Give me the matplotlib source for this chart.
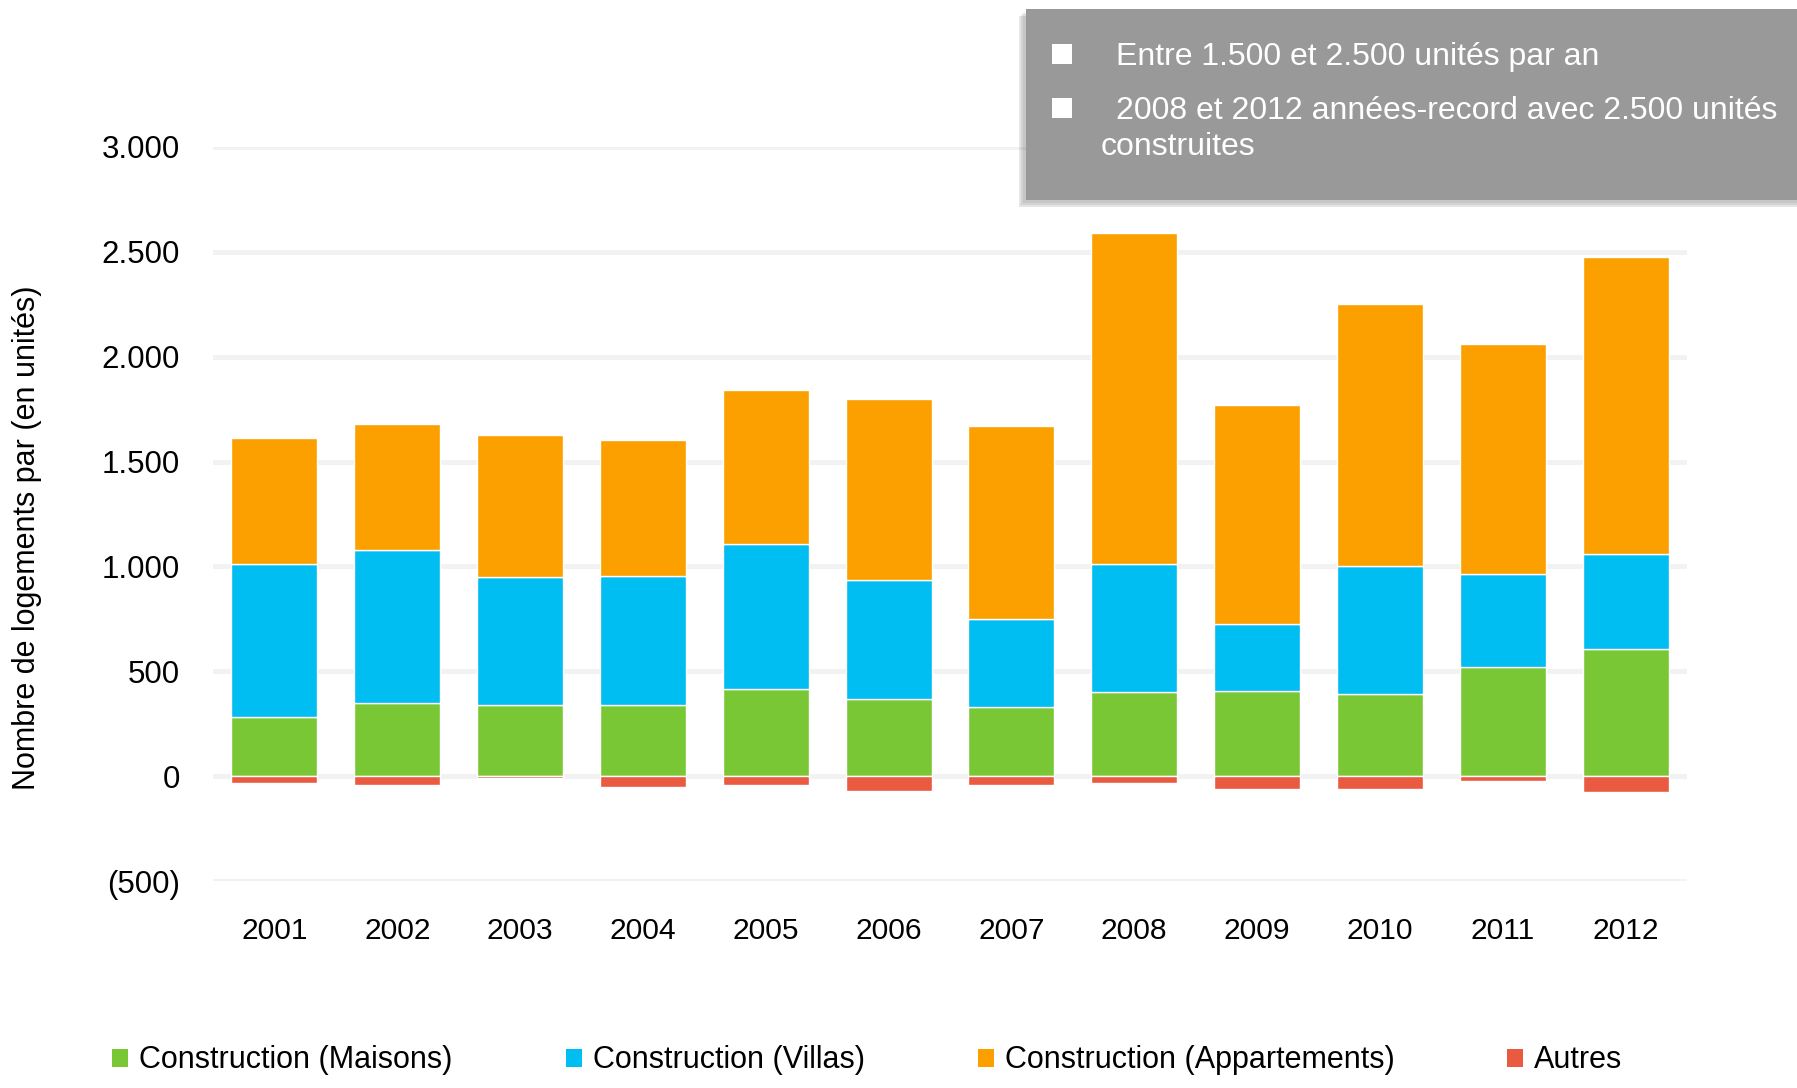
import numpy as np
import matplotlib
matplotlib.use('Agg')
import matplotlib.pyplot as plt
from matplotlib.patches import Rectangle
from matplotlib.ticker import FuncFormatter

# data
years = ['2001', '2002', '2003', '2004', '2005', '2006', '2007', '2008', '2009', '2010', '2011', '2012']
maisons = [284, 350, 339, 339, 415, 366, 328, 399, 404, 393, 519, 607]
villas = [727, 727, 612, 617, 694, 568, 421, 612, 323, 607, 443, 453]
appartements = [601, 601, 677, 645, 733, 864, 923, 1579, 1043, 1251, 1098, 1415]
autres = [-35, -41, -11, -52, -41, -70, -44, -35, -63, -60, -22, -75]

series_names = ['Construction (Maisons)', 'Construction (Villas)',
                'Construction (Appartements)', 'Autres']
colors = ['#7ac736', '#00bdf2', '#fca000', '#e95a40']

box_lines = ['Entre 1.500 et 2.500 unités par an',
             '2008 et 2012 années-record avec 2.500 unités',
             'construites']

plt.rcParams['font.family'] = ['Liberation Sans', 'DejaVu Sans']

W, H = 1797, 1088
fig = plt.figure(figsize=(W / 100, H / 100), dpi=100)
ax = fig.add_axes([213 / W, 1 - 881 / H, (1687 - 213) / W, (881 - 147) / H])

x = np.arange(len(years))
m = np.array(maisons)
v = np.array(villas)
a = np.array(appartements)
bw = 0.7
ax.bar(x, m, bw, color=colors[0], edgecolor='white', linewidth=1, zorder=3)
ax.bar(x, v, bw, bottom=m, color=colors[1], edgecolor='white', linewidth=1, zorder=3)
ax.bar(x, a, bw, bottom=m + v, color=colors[2], edgecolor='white', linewidth=1, zorder=3)
ax.bar(x, autres, bw, color=colors[3], edgecolor='white', linewidth=1, zorder=3)

ax.set_xlim(-0.5, 11.5)
ax.set_ylim(-500, 3000)
ax.set_yticks(np.arange(-500, 3001, 500))
ax.set_xticks(x)
ax.set_xticklabels(years)


def fmt(val, pos):
    s = f'{abs(int(val)):,}'.replace(',', '.')
    return f'({s})' if val < 0 else s


ax.yaxis.set_major_formatter(FuncFormatter(fmt))
ax.yaxis.grid(True, color='#f2f2f2', linewidth=3.6, zorder=0)
ax.set_axisbelow(True)
for sp in ax.spines.values():
    sp.set_visible(False)
ax.tick_params(axis='both', length=0, colors='black')
ax.tick_params(axis='y', pad=24, labelsize=22.5)
ax.tick_params(axis='x', pad=26, labelsize=21.6)

fig.text(27 / W, 1 - 538 / H, 'Nombre de logements par (en unités)', rotation=90,
         ha='center', va='center', fontsize=22)

# grey call-out box with a soft shadow
for i, al in enumerate([0.06, 0.08, 0.1]):
    off = 3 + 2 * i
    fig.add_artist(Rectangle(((1026 - off) / W, 1 - (200 + off) / H), (W - 1026 + off) / W,
                             191 / H, transform=fig.transFigure, facecolor='black',
                             edgecolor='none', alpha=al, zorder=5))
fig.add_artist(Rectangle((1026 / W, 1 - 200 / H), (W - 1026) / W, 191 / H,
                         transform=fig.transFigure, facecolor='#999999',
                         edgecolor='none', zorder=6))
for yc in [54, 108]:
    fig.add_artist(Rectangle((1052 / W, 1 - (yc + 10) / H), 20 / W, 20 / H,
                             transform=fig.transFigure, facecolor='white',
                             edgecolor='none', zorder=7))
fig.text(1116 / W, 1 - 57 / H, box_lines[0], color='white', fontsize=23,
         va='center', ha='left', zorder=8)
fig.text(1116 / W, 1 - 111 / H, box_lines[1], color='white', fontsize=23,
         va='center', ha='left', zorder=8)
fig.text(1101 / W, 1 - 147 / H, box_lines[2], color='white', fontsize=23,
         va='center', ha='left', zorder=8)

# bottom legend
patch_x = [112, 566, 978, 1507]
for name, c, px in zip(series_names, colors, patch_x):
    fig.add_artist(Rectangle((px / W, 1 - 1067 / H), 16 / W, 18 / H,
                             transform=fig.transFigure, facecolor=c, edgecolor='none'))
    fig.text((px + 27) / W, 1 - 1060 / H, name, fontsize=22, va='center', ha='left')

fig.savefig('out.png', dpi=100)
